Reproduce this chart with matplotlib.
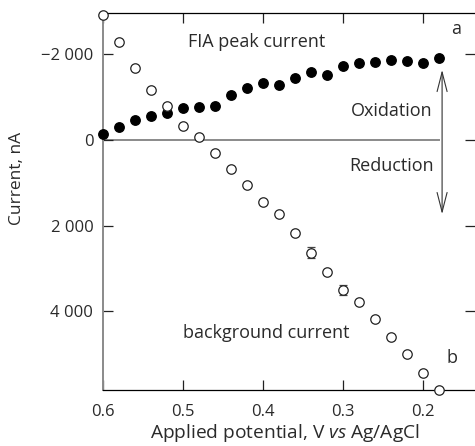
import matplotlib
matplotlib.use("Agg")
import matplotlib.pyplot as plt
from matplotlib.patches import FancyArrowPatch

plt.rcParams['font.family'] = ['Open Sans', 'DejaVu Sans']
plt.rcParams['mathtext.fontset'] = 'custom'
plt.rcParams['mathtext.rm'] = 'Open Sans'
plt.rcParams['mathtext.it'] = 'Open Sans:italic'

# ---- data ----
potential = [0.60, 0.58, 0.56, 0.54, 0.52, 0.50, 0.48, 0.46, 0.44, 0.42, 0.40,
             0.38, 0.36, 0.34, 0.32, 0.30, 0.28, 0.26, 0.24, 0.22, 0.20, 0.18]
fia_peak = [-133, -296, -459, -545, -622, -731, -768, -792, -1041, -1197, -1327,
            -1274, -1444, -1569, -1506, -1709, -1779, -1802, -1849, -1839, -1779, -1902]
background = [-2903, -2268, -1676, -1164, -785, -312, -70, 317, 682, 1061, 1457,
              1730, 2179, 2631, 3081, 3500, 3772, 4182, 4601, 4990, 5425, 5828]
bg_err = [0, 0, 0, 0, 0, 0, 0, 0, 0, 0, 0,
          0, 0, 130, 0, 110, 0, 0, 0, 0, 0, 0]
xticks = [0.6, 0.5, 0.4, 0.3, 0.2]
xtick_labels = ['0.6', '0.5', '0.4', '0.3', '0.2']
yticks = [-2000, 0, 2000, 4000]
ytick_labels = ['\u22122 000', '0', '2 000', '4 000']

W, H = 475, 446
fig = plt.figure(figsize=(W / 100, H / 100), dpi=100)
ax = fig.add_axes([103 / W, 1 - 390 / H, (475 - 103) / W, (390 - 13) / H])

txt = '#2a2a2a'
fs = 13
tfs = 12

# zero line
ax.plot([0.6, 0.18], [0, 0], color='#8a8a8a', lw=1.4, zorder=1)

ax.plot(potential, fia_peak, 'o', color='black', ms=6.8, clip_on=False, zorder=3)
ax.errorbar(potential, background, yerr=bg_err,
            fmt='o', mfc='white', mec='#222222', mew=0.9, ms=6.8, ecolor='#444444',
            elinewidth=0.8, capsize=3, capthick=0.8, clip_on=False, zorder=3)

ax.set_xlim(0.6, 0.1354)
ax.set_ylim(5830, -2950)

ax.set_xticks(xticks)
ax.set_xticklabels(xtick_labels)
ax.set_yticks(yticks)
ax.set_yticklabels(ytick_labels)
ax.tick_params(direction='in', length=7, width=0.9, colors='#222222', labelcolor=txt,
               labelsize=tfs, top=True, right=True)
ax.tick_params(axis='y', pad=7)
ax.tick_params(axis='x', pad=10)

ax.spines['right'].set_visible(False)
ax.spines['left'].set_color('#8a8a8a')
ax.spines['left'].set_linewidth(1.4)
ax.spines['top'].set_linewidth(0.9)
ax.spines['bottom'].set_linewidth(0.9)

# double arrow
arr = FancyArrowPatch((0.1765, -1690), (0.1765, 1800), arrowstyle='<->,head_length=0.7,head_width=0.18',
                      mutation_scale=20, color='#333333', lw=0.8, zorder=2)
ax.add_patch(arr)

ax.text(0.4942, -2282, 'FIA peak current', fontsize=fs, color=txt, va='center', ha='left')
ax.text(0.1595, -2570, 'a', fontsize=fs, color=txt, va='center', ha='center')
ax.text(0.1883, -668, 'Oxidation', fontsize=fs, color=txt, va='center', ha='right')
ax.text(0.1866, 612, 'Reduction', fontsize=fs, color=txt, va='center', ha='right')
ax.text(0.5005, 4508, 'background current', fontsize=fs, color=txt, va='center', ha='left')
ax.text(0.1645, 5076, 'b', fontsize=fs, color=txt, va='center', ha='center')

fig.text(285 / W, 1 - 433 / H, r'Applied potential, V $\it{vs}$ Ag/AgCl', fontsize=13.8,
         color=txt, ha='center', va='center')
fig.text(17 / W, 1 - 178 / H, 'Current, nA', fontsize=12.5, color=txt, ha='center',
         va='center', rotation=90)

fig.savefig('out.png', dpi=100)
